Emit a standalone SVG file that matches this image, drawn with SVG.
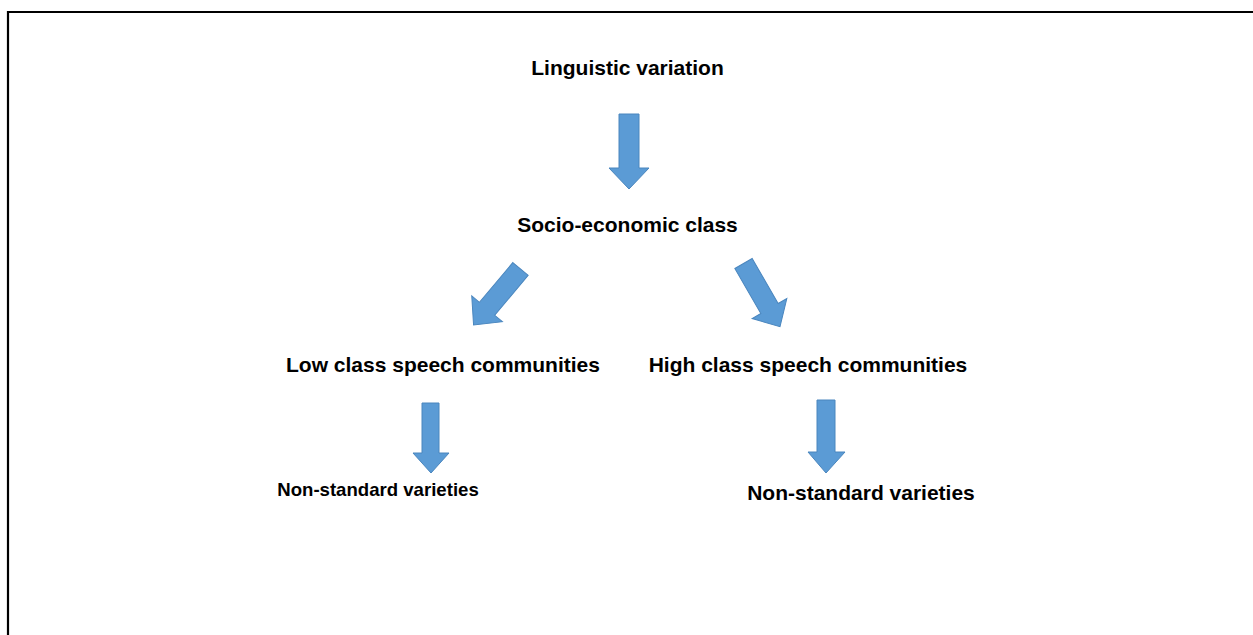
<svg xmlns="http://www.w3.org/2000/svg" width="1253" height="635" viewBox="0 0 1253 635">
<style>
.t{font-family:"Liberation Sans",Arial,sans-serif;font-weight:bold;font-size:21px;fill:#000;text-anchor:middle}
.a{fill:#5B9BD5;stroke:#4A86BE;stroke-width:1}
</style>
<defs>
<polygon id="arr" points="-10,0 10,0 10,52 20,52 0,73 -20,52 -10,52"/>
</defs>
<rect width="1253" height="635" fill="#fff"/>
<path d="M8,635 V12 H1253" fill="none" stroke="#000" stroke-width="2.2"/>
<g id="n1"><text class="t" x="627.5" y="75">Linguistic variation</text></g>
<g id="n2"><text class="t" x="627.5" y="232">Socio-economic class</text></g>
<g id="n3"><text class="t" x="443" y="372">Low class speech communities</text></g>
<g id="n4"><text class="t" x="808" y="372">High class speech communities</text></g>
<g id="n5"><text class="t" x="378" y="496" style="font-size:18.6px">Non-standard varieties</text></g>
<g id="n6"><text class="t" x="861" y="500">Non-standard varieties</text></g>
<g id="connectors">
<polygon class="a" points="619,114 639,114 639,168 649,168 629,189 609,168 619,168"/>
<use href="#arr" class="a" transform="translate(520.5,269) rotate(40)"/>
<use href="#arr" class="a" transform="translate(743.5,263.5) rotate(-30)"/>
<polygon class="a" points="422,403 439,403 439,453 449,453 431,473 413,453 422,453"/>
<polygon class="a" points="817,400 835,400 835,452 845,452 826,473 808,452 817,452"/>
</g>
</svg>
